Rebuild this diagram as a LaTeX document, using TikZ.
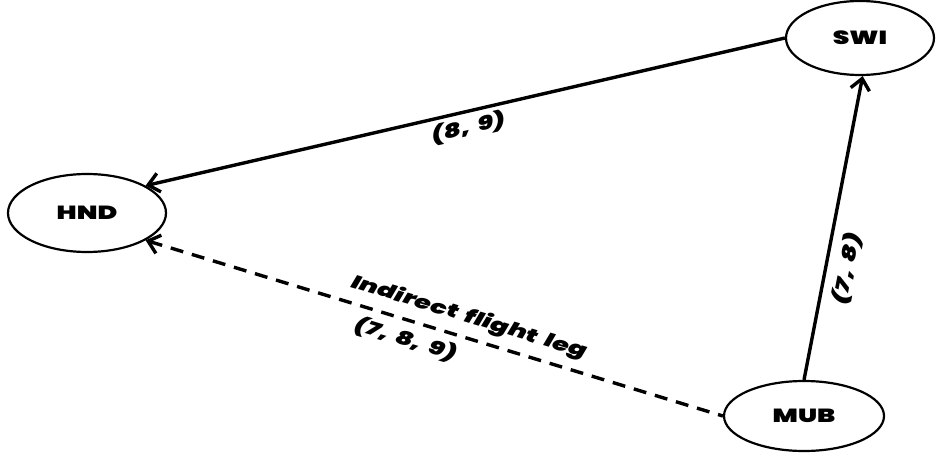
\documentclass[tikz,border=0pt]{standalone}
\usepackage{fontspec}
\newfontfamily\lblfont{Poppins Black}[FakeStretch=1.4, WordSpace=1.7,
  ItalicFont={Poppins Black Italic}, ItalicFeatures={FakeStretch=1.4, WordSpace=1.7}]
\usetikzlibrary{arrows.meta,shapes.geometric}

\begin{document}
\begin{tikzpicture}[
  x=1pt, y=1pt,
  airport/.style={draw, ellipse, line width=2.2pt, inner sep=0pt,
    font=\lblfont\fontsize{19}{22}\selectfont},
  arr/.style={-{Straight Barb[length=11pt, width=19pt]}, line width=3.4pt},
  rarr/.style={{Straight Barb[length=11pt, width=19pt]}-, line width=3.4pt},
  leg/.style={font=\lblfont\itshape\fontsize{19}{22}\selectfont, inner sep=3pt}
]
\useasboundingbox (0,0) rectangle (936,453);
\node[airport, minimum width=148pt, minimum height=74pt] (SWI) at (860,415) {SWI};
\node[airport, minimum width=158pt, minimum height=78pt] (HND) at (87,240) {HND};
\node[airport, minimum width=160pt, minimum height=70pt] (MUB) at (804,37) {MUB};

\draw[rarr] (HND.25) -- node[leg, below=1pt, sloped] {(8, 9)} (SWI.west);
\draw[arr] (MUB.north) -- node[leg, pos=0.38, below=6pt, sloped] {(7, 8)} (SWI.-86);
\draw[rarr, dash pattern=on 13pt off 9pt] (HND.-25)
  -- node[leg, pos=0.55, above=5pt, sloped] {Indirect flight leg}
     node[leg, pos=0.46, below=4pt, sloped] {(7, 8, 9)} (MUB.west);
\end{tikzpicture}
\end{document}
